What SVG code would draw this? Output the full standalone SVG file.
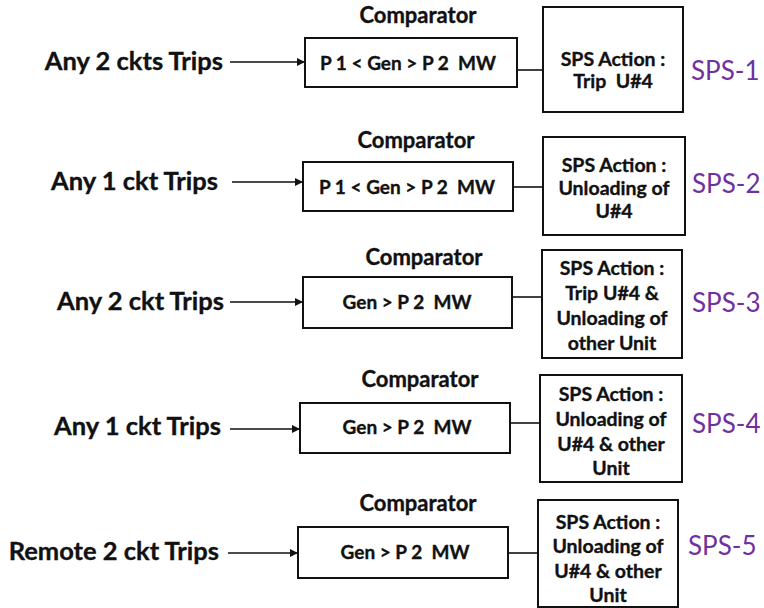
<svg xmlns="http://www.w3.org/2000/svg" width="764" height="608" viewBox="0 0 764 608">
  <style>
    .box { fill: #ffffff; stroke: #111111; stroke-width: 2; }
    .wire { fill: none; stroke: #111111; stroke-width: 1.6; }
    .b { font-family: Lato, "Liberation Sans", sans-serif; font-weight: bold; fill: #111111; stroke: #111111; stroke-width: 0.35; }
    .trig { font-size: 25.5px; text-anchor: end; }
    .title { font-size: 22px; text-anchor: middle; }
    .cond { font-size: 19px; text-anchor: middle; }
    .act { font-size: 19.5px; text-anchor: middle; }
    .tag { font-family: Lato, "Liberation Sans", sans-serif; font-size: 26px; fill: #7030A0; }
  </style>
  <defs>
    <marker id="arrow" viewBox="0 0 10 10" refX="10" refY="5" markerWidth="5" markerHeight="5" orient="auto" markerUnits="strokeWidth">
      <path d="M0,0 L10,5 L0,10 z" fill="#111111"/>
    </marker>
  </defs>

  <!-- trigger-to-comparator arrows and comparator-to-action links -->
  <g id="connectors">
    <line class="wire" x1="230" y1="62" x2="305" y2="62" marker-end="url(#arrow)"/>
    <line class="wire" x1="232" y1="182" x2="303" y2="182" marker-end="url(#arrow)"/>
    <line class="wire" x1="230" y1="302" x2="303" y2="302" marker-end="url(#arrow)"/>
    <line class="wire" x1="230" y1="429" x2="300" y2="429" marker-end="url(#arrow)"/>
    <line class="wire" x1="228" y1="553" x2="298" y2="553" marker-end="url(#arrow)"/>
    <line class="wire" x1="517" y1="70" x2="543" y2="70"/>
    <line class="wire" x1="513" y1="187" x2="543" y2="187"/>
    <line class="wire" x1="512" y1="297" x2="542" y2="297"/>
    <line class="wire" x1="510" y1="423" x2="540" y2="423"/>
    <line class="wire" x1="508" y1="553" x2="538" y2="553"/>
  </g>

  <!-- scheme 1 -->
  <g id="trigger-1"><text class="b trig" x="223" y="70">Any 2 ckts Trips</text></g>
  <g id="comparator-1">
    <text class="b title" x="418" y="23">Comparator</text>
    <rect class="box" x="305" y="38" width="212" height="49"/>
    <text class="b cond" x="408" y="70" xml:space="preserve">P 1 &lt; Gen &gt; P 2  MW</text>
  </g>
  <g id="action-1">
    <rect class="box" x="543" y="7" width="140" height="105"/>
    <text class="b act" x="613" y="66">SPS Action :</text>
    <text class="b act" x="613" y="88" xml:space="preserve">Trip  U#4</text>
  </g>
  <g id="tag-1"><text class="tag" x="691" y="80">SPS-1</text></g>

  <!-- scheme 2 -->
  <g id="trigger-2"><text class="b trig" x="218" y="190">Any 1 ckt Trips</text></g>
  <g id="comparator-2">
    <text class="b title" x="416" y="148">Comparator</text>
    <rect class="box" x="303" y="162" width="210" height="49"/>
    <text class="b cond" x="407" y="194" xml:space="preserve">P 1 &lt; Gen &gt; P 2  MW</text>
  </g>
  <g id="action-2">
    <rect class="box" x="543" y="137" width="142" height="98"/>
    <text class="b act" x="614" y="172">SPS Action :</text>
    <text class="b act" x="614" y="195">Unloading of</text>
    <text class="b act" x="614" y="218">U#4</text>
  </g>
  <g id="tag-2"><text class="tag" x="692" y="193">SPS-2</text></g>

  <!-- scheme 3 -->
  <g id="trigger-3"><text class="b trig" x="224" y="310">Any 2 ckt Trips</text></g>
  <g id="comparator-3">
    <text class="b title" x="424" y="265">Comparator</text>
    <rect class="box" x="303" y="277" width="209" height="51"/>
    <text class="b cond" x="407" y="309" xml:space="preserve">Gen &gt; P 2  MW</text>
  </g>
  <g id="action-3">
    <rect class="box" x="542" y="250" width="140" height="108"/>
    <text class="b act" x="612" y="275">SPS Action :</text>
    <text class="b act" x="612" y="300">Trip U#4 &amp;</text>
    <text class="b act" x="612" y="325">Unloading of</text>
    <text class="b act" x="612" y="350">other Unit</text>
  </g>
  <g id="tag-3"><text class="tag" x="692" y="312">SPS-3</text></g>

  <!-- scheme 4 -->
  <g id="trigger-4"><text class="b trig" x="221" y="435">Any 1 ckt Trips</text></g>
  <g id="comparator-4">
    <text class="b title" x="420" y="387">Comparator</text>
    <rect class="box" x="300" y="403" width="210" height="50"/>
    <text class="b cond" x="407" y="434" xml:space="preserve">Gen &gt; P 2  MW</text>
  </g>
  <g id="action-4">
    <rect class="box" x="540" y="375" width="142" height="107"/>
    <text class="b act" x="611" y="401">SPS Action :</text>
    <text class="b act" x="611" y="426">Unloading of</text>
    <text class="b act" x="611" y="451">U#4 &amp; other</text>
    <text class="b act" x="611" y="475">Unit</text>
  </g>
  <g id="tag-4"><text class="tag" x="692" y="433">SPS-4</text></g>

  <!-- scheme 5 -->
  <g id="trigger-5"><text class="b trig" x="219" y="560">Remote 2 ckt Trips</text></g>
  <g id="comparator-5">
    <text class="b title" x="418" y="511">Comparator</text>
    <rect class="box" x="298" y="527" width="210" height="51"/>
    <text class="b cond" x="405" y="559" xml:space="preserve">Gen &gt; P 2  MW</text>
  </g>
  <g id="action-5">
    <rect class="box" x="538" y="500" width="140" height="107"/>
    <text class="b act" x="608" y="529">SPS Action :</text>
    <text class="b act" x="608" y="553">Unloading of</text>
    <text class="b act" x="608" y="578">U#4 &amp; other</text>
    <text class="b act" x="608" y="602">Unit</text>
  </g>
  <g id="tag-5"><text class="tag" x="688" y="555">SPS-5</text></g>
</svg>
